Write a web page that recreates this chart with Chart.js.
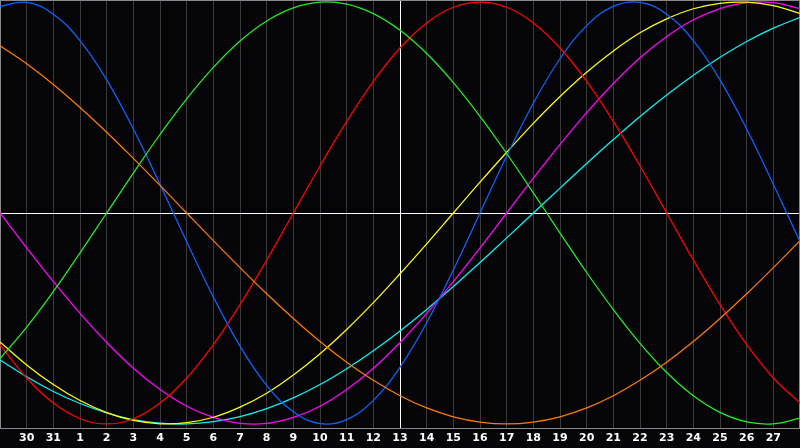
<!DOCTYPE html>
<html>
<head>
<meta charset="utf-8">
<script src="https://cdn.jsdelivr.net/npm/chart.js@4/dist/chart.umd.min.js"></script>
<style>
  html, body { margin: 0; padding: 0; background: #050508; }
  #wrap { width: 800px; height: 448px; }
</style>
</head>
<body>
<div id="wrap"><canvas id="c" width="800" height="448"></canvas></div>
<script>
// Day positions 0..30 (one value per day column); tick labels sit on days 1..29
const tickDays = [1,2,3,4,5,6,7,8,9,10,11,12,13,14,15,16,17,18,19,20,21,22,23,24,25,26,27,28,29];
const tickLabels = ['30','31','1','2','3','4','5','6','7','8','9','10','11','12','13','14','15','16','17','18','19','20','21','22','23','24','25','26','27'];
const todayIndex = 15;

// Series values (-1 .. 1), one per day 0..30
const physical = [0.979,0.998,0.942,0.817,0.631,0.398,0.136,-0.136,-0.398,-0.631,-0.817,-0.942,-0.998,-0.979,-0.888,-0.731,-0.520,-0.270,0,0.270,0.520,0.731,0.888,0.979,0.998,0.942,0.817,0.631,0.398,0.136,-0.136];
const emotional = [-0.624,-0.782,-0.901,-0.975,-1,-0.975,-0.901,-0.782,-0.624,-0.434,-0.223,0,0.223,0.434,0.624,0.782,0.901,0.975,1,0.975,0.901,0.782,0.624,0.434,0.223,0,-0.223,-0.434,-0.624,-0.782,-0.901];
const intellectual = [-0.690,-0.541,-0.372,-0.189,0,0.189,0.372,0.541,0.690,0.815,0.910,0.972,0.999,0.990,0.945,0.866,0.756,0.618,0.458,0.282,0.095,-0.095,-0.282,-0.458,-0.618,-0.756,-0.866,-0.945,-0.990,-0.999,-0.972];
const intuitive = [0,-0.165,-0.325,-0.476,-0.614,-0.736,-0.837,-0.916,-0.969,-0.997,-0.997,-0.969,-0.916,-0.837,-0.736,-0.614,-0.476,-0.325,-0.165,0,0.165,0.325,0.476,0.614,0.736,0.837,0.916,0.969,0.997,0.997,0.969];
const aesthetic = [-0.611,-0.720,-0.813,-0.889,-0.946,-0.983,-0.999,-0.994,-0.968,-0.920,-0.854,-0.768,-0.667,-0.552,-0.425,-0.288,-0.146,0,0.146,0.288,0.425,0.552,0.667,0.768,0.854,0.920,0.968,0.994,0.999,0.983,0.946];
const awareness = [0.793,0.707,0.609,0.5,0.383,0.259,0.131,0,-0.131,-0.259,-0.383,-0.5,-0.609,-0.707,-0.793,-0.866,-0.924,-0.966,-0.991,-1,-0.991,-0.966,-0.924,-0.866,-0.793,-0.707,-0.609,-0.5,-0.383,-0.259,-0.131];
const spiritual = [-0.697,-0.776,-0.846,-0.903,-0.947,-0.979,-0.996,-1.0,-0.989,-0.965,-0.927,-0.876,-0.813,-0.738,-0.653,-0.559,-0.457,-0.348,-0.235,-0.118,0,0.118,0.235,0.348,0.457,0.559,0.653,0.738,0.813,0.876,0.927];

const series = [
  { name: 'Awareness', values: awareness, color: '#ff7a00' },
  { name: 'Intellectual', values: intellectual, color: '#20f020' },
  { name: 'Emotional', values: emotional, color: '#ff0000' },
  { name: 'Physical', values: physical, color: '#0a64ff' },
  { name: 'Aesthetic', values: aesthetic, color: '#ffff00' },
  { name: 'Intuitive', values: intuitive, color: '#ff00ff' },
  { name: 'Spiritual', values: spiritual, color: '#00f4f4' }
];

const frame = {
  id: 'frame',
  beforeDatasetsDraw(chart) {
    const { ctx, chartArea: a, scales: { x, y } } = chart;
    ctx.save();
    ctx.lineWidth = 1;
    ctx.strokeStyle = '#ffffff';
    const cy = Math.round(y.getPixelForValue(0)) + 0.5;
    const cx = Math.round(x.getPixelForValue(todayIndex)) + 0.5;
    ctx.beginPath();
    ctx.moveTo(a.left, cy); ctx.lineTo(a.right, cy);
    ctx.moveTo(cx, a.top); ctx.lineTo(cx, a.bottom);
    ctx.stroke();
    ctx.strokeStyle = '#8a8a8a';
    ctx.strokeRect(a.left + 0.5, a.top + 0.5, a.right - a.left - 1, a.bottom - a.top);
    ctx.restore();
  }
};

new Chart(document.getElementById('c'), {
  type: 'line',
  data: {
    datasets: series.map(s => ({
      label: s.name,
      data: s.values.map((v, i) => ({ x: i, y: v })),
      borderColor: s.color,
      borderWidth: 1.25,
      pointRadius: 0,
      tension: 0.4,
      fill: false
    }))
  },
  options: {
    responsive: false,
    animation: false,
    devicePixelRatio: 1,
    layout: { padding: 0 },
    plugins: { legend: { display: false }, tooltip: { enabled: false } },
    scales: {
      x: {
        type: 'linear',
        min: 0,
        max: 30,
        afterBuildTicks: s => { s.ticks = tickDays.map(v => ({ value: v })); },
        afterFit: s => { s.height = 20; },
        grid: { color: '#3a3a3a', drawTicks: false, lineWidth: 1 },
        border: { display: false },
        ticks: {
          autoSkip: false,
          maxRotation: 0,
          padding: 4,
          color: '#ffffff',
          font: { family: 'DejaVu Sans', size: 11, weight: 'bold' },
          callback: (v) => tickLabels[tickDays.indexOf(v)]
        }
      },
      y: {
        display: false,
        min: -1.019,
        max: 1.0095
      }
    }
  },
  plugins: [frame]
});
</script>
</body>
</html>
